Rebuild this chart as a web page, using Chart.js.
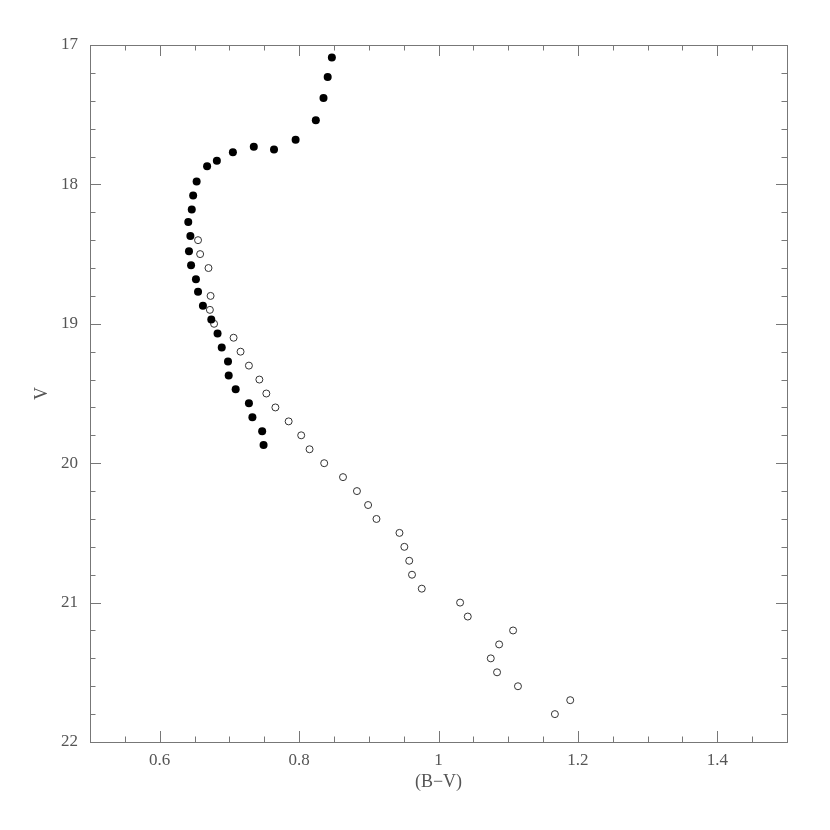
<!DOCTYPE html>
<html>
<head>
<meta charset="utf-8">
<title>CMD</title>
<script src="https://cdn.jsdelivr.net/npm/chart.js@4/dist/chart.umd.min.js"></script>
<style>
    html, body { margin: 0; padding: 0; background: #fff; }
    #wrap { width: 830px; height: 830px; }
</style>
</head>
<body>
<div id="wrap"><canvas id="cmd-chart" width="830" height="830"></canvas></div>
<script>
// Filled points: (B-V) colour and V magnitude
const filledBV = [0.847, 0.841, 0.835, 0.824, 0.795, 0.764, 0.735, 0.705, 0.682, 0.668,
                  0.653, 0.648, 0.646, 0.641, 0.644, 0.642, 0.645, 0.652, 0.655, 0.662,
                  0.674, 0.683, 0.689, 0.698, 0.699, 0.709, 0.728, 0.733, 0.747, 0.749];
const filledV  = [17.09, 17.23, 17.38, 17.54, 17.68, 17.75, 17.73, 17.77, 17.83, 17.87,
                  17.98, 18.08, 18.18, 18.27, 18.37, 18.48, 18.58, 18.68, 18.77, 18.87,
                  18.97, 19.07, 19.17, 19.27, 19.37, 19.47, 19.57, 19.67, 19.77, 19.87];

// Open points
const openBV = [0.655, 0.658, 0.670, 0.673, 0.672, 0.678, 0.706, 0.716, 0.728, 0.743,
                0.753, 0.766, 0.785, 0.803, 0.815, 0.836, 0.863, 0.883, 0.899, 0.911,
                0.944, 0.951, 0.958, 0.962, 0.976, 1.031, 1.042, 1.107, 1.087, 1.075,
                1.084, 1.114, 1.189, 1.167];
const openV  = [18.4, 18.5, 18.6, 18.8, 18.9, 19.0, 19.1, 19.2, 19.3, 19.4,
                19.5, 19.6, 19.7, 19.8, 19.9, 20.0, 20.1, 20.2, 20.3, 20.4,
                20.5, 20.6, 20.7, 20.8, 20.9, 21.0, 21.1, 21.2, 21.3, 21.4,
                21.5, 21.6, 21.7, 21.8];

// Labelled ticks
const xTickLabels = [0.6, 0.8, 1, 1.2, 1.4];
const yTickLabels = [17, 18, 19, 20, 21, 22];

const axisColor = '#777';
const textColor = '#555';
const tickFont = { family: 'Liberation Serif', size: 17 };

function toPoints(xs, ys) {
    return xs.map((x, i) => ({ x: x, y: ys[i] }));
}

function isLabelled(list, v) {
    return list.some(t => Math.abs(t - v) < 1e-6);
}

// Frame plus inward ticks on all four sides
const frameTicks = {
    id: 'frameTicks',
    beforeDatasetsDraw(chart) {
        const { ctx, chartArea: a, scales } = chart;
        ctx.save();
        ctx.strokeStyle = axisColor;
        ctx.lineWidth = 1;
        ctx.strokeRect(a.left + 0.5, a.top + 0.5, a.right - a.left, a.bottom - a.top);

        ctx.beginPath();
        scales.x.ticks.forEach(t => {
            const px = Math.round(scales.x.getPixelForValue(t.value)) + 0.5;
            const len = isLabelled(xTickLabels, t.value) ? 11 : 5.5;
            ctx.moveTo(px, a.bottom); ctx.lineTo(px, a.bottom - len);
            ctx.moveTo(px, a.top); ctx.lineTo(px, a.top + len);
        });
        scales.y.ticks.forEach(t => {
            const py = Math.round(scales.y.getPixelForValue(t.value)) + 0.5;
            const len = isLabelled(yTickLabels, t.value) ? 11 : 5.5;
            ctx.moveTo(a.left, py); ctx.lineTo(a.left + len, py);
            ctx.moveTo(a.right, py); ctx.lineTo(a.right - len, py);
        });
        ctx.stroke();
        ctx.restore();
    }
};

new Chart(document.getElementById('cmd-chart'), {
    type: 'scatter',
    data: {
        datasets: [{
            label: 'filled',
            data: toPoints(filledBV, filledV),
            pointStyle: 'circle',
            pointRadius: 4,
            backgroundColor: '#000',
            borderColor: '#000',
            borderWidth: 0
        }, {
            label: 'open',
            data: toPoints(openBV, openV),
            pointStyle: 'circle',
            pointRadius: 3.5,
            backgroundColor: '#fff',
            borderColor: '#333',
            borderWidth: 1
        }]
    },
    options: {
        responsive: false,
        animation: false,
        layout: { padding: { left: 0, top: 45, right: 43, bottom: 0 } },
        plugins: {
            legend: { display: false },
            tooltip: { enabled: false }
        },
        scales: {
            x: {
                type: 'linear',
                min: 0.5,
                max: 1.5,
                grid: { display: false, drawTicks: false },
                border: { display: false },
                ticks: {
                    stepSize: 0.05,
                    autoSkip: false,
                    maxRotation: 0,
                    padding: 8,
                    color: textColor,
                    font: tickFont,
                    callback: v => isLabelled(xTickLabels, v) ? String(Math.round(v * 10) / 10) : ''
                },
                title: {
                    display: true,
                    text: '(B\u2212V)',
                    color: textColor,
                    font: { family: 'Liberation Serif', size: 18 },
                    padding: { top: 0, bottom: 37 }
                },
                afterFit(scale) { scale.height = 88; }
            },
            y: {
                type: 'linear',
                min: 17,
                max: 22,
                reverse: true,
                grid: { display: false, drawTicks: false },
                border: { display: false },
                ticks: {
                    stepSize: 0.2,
                    autoSkip: false,
                    padding: 12,
                    color: textColor,
                    font: tickFont,
                    callback: v => isLabelled(yTickLabels, v) ? String(Math.round(v)) : ''
                },
                title: {
                    display: true,
                    text: 'V',
                    color: textColor,
                    font: { family: 'Liberation Serif', size: 18 },
                    padding: { top: 31, bottom: 0 }
                },
                afterFit(scale) { scale.width = 90; }
            }
        }
    },
    plugins: [frameTicks]
});
</script>
</body>
</html>
